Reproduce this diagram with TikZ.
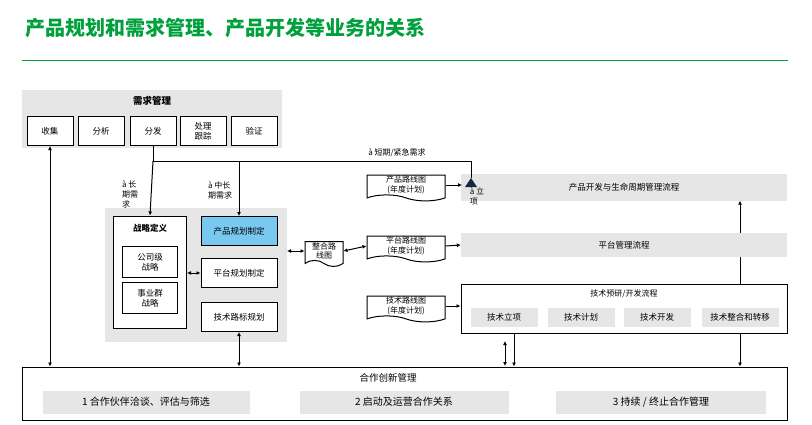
\documentclass[tikz,border=0pt]{standalone}
\usepackage{fontspec}
\setmainfont{Noto Sans CJK SC}
\usetikzlibrary{shapes.symbols,arrows.meta}
\definecolor{titlegreen}{RGB}{0,160,60}
\definecolor{panelgray}{RGB}{230,230,230}
\definecolor{planblue}{RGB}{120,200,240}
\definecolor{navy}{RGB}{20,40,70}
\tikzset{
  box/.style={draw, line width=1pt, fill=white, minimum height=#1, inner sep=1pt, align=center, font=\fontsize{8.5}{10}\selectfont},
  box/.default=29,
  panel/.style={fill=panelgray, inner sep=0pt, align=center, font=\fontsize{8.5}{10}\selectfont},
  roadmap/.style={draw, line width=1pt, fill=white, tape, tape bend top=no bend, tape bend bottom=out and in,
    tape bend height=6pt, minimum width=78, minimum height=30, align=center, inner sep=1pt, font=\fontsize{8}{9.5}\selectfont},
  lab/.style={align=left, font=\fontsize{8}{10}\selectfont},
  flow/.style={line width=1pt, -{Latex[length=4pt,width=4pt]}},
  twoway/.style={line width=1pt, {Latex[length=4pt,width=4pt]}-{Latex[length=4pt,width=4pt]}}
}
\begin{document}
\begin{tikzpicture}[x=1pt, y=-1pt]
\useasboundingbox (0,0) rectangle (812,424);

% Title
\node[anchor=west, text=titlegreen, font=\fontsize{20}{23}\selectfont\bfseries] (title) at (22,28) {产品规划和需求管理、产品开发等业务的关系};
\draw[titlegreen, thick] (22,60) -- (788,60);

% Demand management
\fill[panelgray] (22,90) rectangle (282,148);
\node[font=\fontsize{9.5}{11}\selectfont\bfseries] (demand) at (152,101) {需求管理};
\node[box, minimum width=46] (collect) at (50,131) {收集};
\node[box, minimum width=46] (analyse) at (101,131) {分析};
\node[box, minimum width=46] (dispatch) at (153,131) {分发};
\node[box, minimum width=46] (track) at (203,131) {处理\\跟踪};
\node[box, minimum width=46] (verify) at (254,131) {验证};

% Planning panel
\fill[panelgray] (105,208) rectangle (287,342);
\node[box, minimum width=73, minimum height=112] (strategy) at (150,272) {};
\node[font=\fontsize{8.5}{10}\selectfont\bfseries] (stratitle) at (150,228) {战略定义};
\node[box, minimum width=55, minimum height=31] (corp) at (150,262) {公司级\\战略};
\node[box, minimum width=55, minimum height=31] (bgroup) at (150,298) {事业群\\战略};
\node[box, minimum width=76, fill=planblue] (prodplan) at (239,231) {产品规划制定};
\node[box, minimum width=76] (platplan) at (239,273) {平台规划制定};
\node[box, minimum width=76] (techplan) at (239,317) {技术路标规划};
\coordinate (panelE) at (287,251);

% Roadmaps
\node[roadmap, minimum width=38] (merge) at (324,251) {整合路\\线图};
\node[roadmap] (prodmap) at (406,185) {产品路线图\\(年度计划)};
\node[roadmap] (platmap) at (406,246) {平台路线图\\(年度计划)};
\node[roadmap] (techmap) at (406,306) {技术路线图\\(年度计划)};

% Processes
\node[panel, minimum width=326, minimum height=27] (prodflow) at (624,187) {产品开发与生命周期管理流程};
\node[panel, minimum width=326, minimum height=24] (platflow) at (624,245) {平台管理流程};
\node[draw, line width=1pt, fill=white, minimum width=326, minimum height=49] (techflow) at (624,309) {};
\node[font=\fontsize{8}{9.5}\selectfont] (techtitle) at (624,294) {技术预研/开发流程};
\node[panel, minimum width=67, minimum height=19] (t1) at (504,317) {技术立项};
\node[panel, minimum width=67, minimum height=19] (t2) at (581,317) {技术计划};
\node[panel, minimum width=67, minimum height=19] (t3) at (657,317) {技术开发};
\node[panel, minimum width=77, minimum height=19] (t4) at (740,317) {技术整合和转移};

% Cooperation
\node[draw, line width=1pt, fill=white, minimum width=765, minimum height=53] (coop) at (404.5,393.5) {};
\node[font=\fontsize{9.5}{11}\selectfont] (cooptitle) at (388,378) {合作创新管理};
\node[panel, minimum width=207, minimum height=23, font=\fontsize{10}{12}\selectfont] (c1) at (146,402) {1 合作伙伴洽谈、评估与筛选};
\node[panel, minimum width=209, minimum height=23, font=\fontsize{10}{12}\selectfont] (c2) at (404,402) {2 启动及运营合作关系};
\node[panel, minimum width=210, minimum height=23, font=\fontsize{10}{12}\selectfont] (c3) at (661,402) {3 持续 / 终止合作管理};

% Demand flows
\coordinate (split) at (153,161);
\coordinate (midsplit) at (239,161);
\coordinate (turn) at (471,161);
\coordinate (launch) at (471,178);
\draw[line width=1pt] (dispatch.south) -- (split) -- (turn) -- (launch);
\fill[navy] (launch) -- ++(-6,9) -- ++(12,0) -- cycle;
\draw[flow] (split) -- (strategy.north);
\draw[flow] (midsplit) -- (prodplan.north);
\node[lab] (shortlab) at (397,153) {à 短期/紧急需求};
\node[lab] (longlab) at (130,194) {à 长\\期需\\求};
\node[lab] (midlab) at (220,190) {à 中长\\期需求};
\node[lab] (launchlab) at (477,196) {à 立\\项};

% Roadmap flows
\draw[twoway] (strategy.east |- platplan) -- (platplan.west);
\draw[twoway] (panelE) -- (merge.west);
\draw[twoway] (merge.east) -- (platmap.west);
\draw[flow] (prodmap.east) -- (462,185);
\draw[flow] (platmap.east) -- (platflow.west);
\draw[flow] (techmap.east) -- (techflow.west |- techmap.east);
\draw[line width=1pt] (techflow.north -| 740,0) -- (platflow.south -| 740,0);
\draw[flow] (platflow.north -| 740,0) -- (prodflow.south -| 740,0);

% Cooperation links
\draw[twoway] (coop.north -| collect) -- (collect.south);
\draw[twoway] (coop.north -| techplan) -- (techplan.south);
\draw[twoway] (505,341) -- (505,366);
\draw[flow] (techflow.south -| 514,0) -- (coop.north -| 514,0);
\draw[flow] (techflow.south -| 740,0) -- (coop.north -| 740,0);
\end{tikzpicture}
\end{document}
